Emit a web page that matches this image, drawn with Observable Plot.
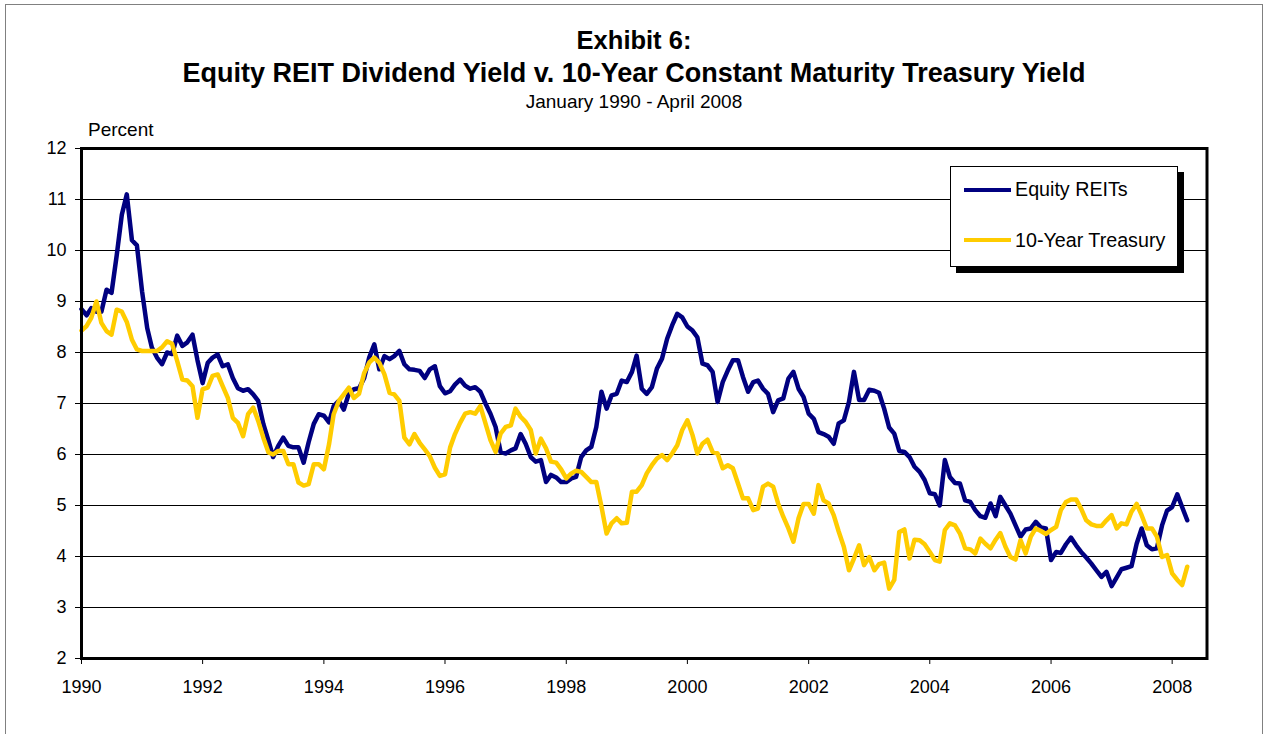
<!DOCTYPE html>
<html><head><meta charset="utf-8">
<script src="https://cdn.jsdelivr.net/npm/d3@7"></script>
<script src="https://cdn.jsdelivr.net/npm/@observablehq/plot@0.6"></script>
<style>
body{margin:0;background:#fff;font-family:"Liberation Sans",Arial,sans-serif;color:#000;}
#wrap{position:relative;width:1268px;height:734px;overflow:hidden;background:#fff;}
#border{position:absolute;left:5px;top:4px;width:1258px;height:800px;border:1px solid #808080;box-sizing:border-box;}
.t{position:absolute;left:0;width:1268px;text-align:center;white-space:nowrap;line-height:1;}
#t1{top:28px;font-size:25.5px;font-weight:bold;}
#t2{top:60px;font-size:27px;font-weight:bold;}
#t3{top:92px;font-size:19px;}
#ylab{position:absolute;left:88px;top:120px;font-size:19px;line-height:1;}
#chart{position:absolute;left:0;top:120px;}
#legend{position:absolute;left:950px;top:166px;width:228px;height:101px;border:1px solid #000;box-sizing:border-box;background:#fff;box-shadow:6px 6px 0 #000;}
#legend .sw{position:absolute;left:13px;width:47px;height:4px;}
#legend .lt{position:absolute;left:64px;font-size:19.7px;line-height:1;white-space:nowrap;}
</style></head><body>
<div id="wrap">
  <div id="border"></div>
  <div class="t" id="t1">Exhibit 6:</div>
  <div class="t" id="t2">Equity REIT Dividend Yield v. 10-Year Constant Maturity Treasury Yield</div>
  <div class="t" id="t3">January 1990 - April 2008</div>
  <div id="chart"></div>
  <div id="ylab">Percent</div>
  <div id="legend"></div>
</div>
<script>
// Monthly values, January 1990 – April 2008
const reits = [
8.85,8.73,8.87,8.8,8.8,9.23,9.17,9.9,10.7,11.1,
10.2,10.1,9.2,8.48,8.1,7.9,7.77,8.0,7.97,8.33,
8.13,8.2,8.35,7.85,7.4,7.8,7.9,7.96,7.73,7.77,
7.5,7.3,7.25,7.28,7.18,7.05,6.6,6.27,5.95,6.17,
6.33,6.17,6.14,6.14,5.84,6.24,6.6,6.79,6.76,6.63,
6.95,7.05,6.88,7.2,7.28,7.3,7.5,7.9,8.16,7.67,
7.93,7.87,7.93,8.03,7.77,7.67,7.66,7.64,7.5,7.67,
7.73,7.34,7.2,7.24,7.37,7.47,7.35,7.29,7.32,7.23,
7.0,6.8,6.54,6.05,6.02,6.08,6.12,6.4,6.21,5.95,
5.86,5.89,5.46,5.6,5.55,5.46,5.46,5.53,5.56,5.95,
6.08,6.15,6.54,7.23,6.9,7.16,7.19,7.45,7.42,7.62,
7.94,7.29,7.19,7.32,7.68,7.88,8.27,8.53,8.76,8.69,
8.51,8.43,8.3,7.78,7.75,7.62,7.03,7.42,7.65,7.85,
7.85,7.52,7.23,7.42,7.45,7.29,7.19,6.83,7.06,7.1,
7.49,7.62,7.29,7.13,6.8,6.7,6.44,6.4,6.35,6.21,
6.61,6.67,7.03,7.62,7.07,7.07,7.27,7.25,7.21,6.9,
6.53,6.41,6.07,6.05,5.95,5.76,5.66,5.5,5.24,5.22,
5.0,5.89,5.56,5.44,5.43,5.1,5.07,4.91,4.79,4.76,
5.04,4.79,5.17,5.0,4.84,4.61,4.39,4.53,4.55,4.68,
4.57,4.55,3.93,4.09,4.07,4.24,4.37,4.22,4.09,3.98,
3.86,3.73,3.6,3.7,3.42,3.59,3.75,3.78,3.81,4.25,
4.55,4.22,4.14,4.16,4.61,4.9,4.97,5.22,4.97,4.71
];
const treasury = [
8.43,8.52,8.68,9.0,8.58,8.42,8.35,8.84,8.8,8.6,
8.25,8.06,8.03,8.03,8.03,8.03,8.1,8.22,8.17,7.83,
7.47,7.45,7.34,6.72,7.28,7.31,7.54,7.57,7.34,7.11,
6.72,6.62,6.36,6.79,6.92,6.66,6.33,6.04,6.0,6.07,
6.07,5.81,5.81,5.45,5.39,5.42,5.81,5.81,5.71,6.2,
6.79,7.05,7.18,7.31,7.11,7.19,7.6,7.8,7.9,7.8,
7.57,7.21,7.18,7.05,6.33,6.2,6.4,6.23,6.1,5.97,
5.74,5.58,5.61,6.14,6.4,6.62,6.8,6.83,6.8,6.95,
6.61,6.28,6.05,6.41,6.54,6.57,6.9,6.74,6.64,6.48,
6.02,6.31,6.12,5.86,5.84,5.71,5.53,5.63,5.68,5.66,
5.56,5.46,5.46,4.98,4.45,4.65,4.75,4.65,4.66,5.27,
5.27,5.4,5.63,5.79,5.92,5.99,5.89,6.02,6.18,6.48,
6.67,6.38,6.02,6.21,6.29,6.05,6.02,5.73,5.79,5.73,
5.43,5.14,5.14,4.91,4.94,5.37,5.43,5.37,5.04,4.78,
4.55,4.29,4.75,5.03,5.03,4.84,5.4,5.1,5.04,4.81,
4.49,4.19,3.73,3.96,4.22,3.83,3.99,3.73,3.85,3.88,
3.37,3.54,4.48,4.53,3.96,4.33,4.32,4.24,4.09,3.93,
3.9,4.52,4.65,4.61,4.45,4.16,4.14,4.06,4.35,4.25,
4.16,4.33,4.46,4.19,3.99,3.94,4.32,4.06,4.39,4.55,
4.5,4.44,4.52,4.58,4.91,5.07,5.12,5.12,4.94,4.71,
4.63,4.6,4.6,4.71,4.81,4.55,4.65,4.63,4.88,5.03,
4.81,4.55,4.55,4.39,3.99,4.03,3.67,3.54,3.44,3.8
];
const seriesNames = ["Equity REITs", "10-Year Treasury"];
const seriesColors = ["#000080", "#FFCC00"];
const yTicks = [2,3,4,5,6,7,8,9,10,11,12];
const xTickYears = [1990,1992,1994,1996,1998,2000,2002,2004,2006,2008];

const months = d3.utcMonth.range(new Date(Date.UTC(1990,0,1)), new Date(Date.UTC(2008,4,1)));
const rows = months.map((d,i)=>({date:d, reits:reits[i], tsy:treasury[i]}));

const chart = Plot.plot({
  width:1268, height:600,
  marginTop:28, marginBottom:62, marginLeft:81, marginRight:61.5,
  style:{fontFamily:"'Liberation Sans', Arial, sans-serif", fontSize:"18px", color:"#000", background:"transparent", overflow:"visible"},
  x:{type:"utc", domain:[new Date(Date.UTC(1990,0,1)), new Date(Date.UTC(2008,6,29))],
     ticks: xTickYears.map(y=>new Date(Date.UTC(y,0,1))), tickFormat:d3.utcFormat("%Y"),
     tickSize:6, tickPadding:16, label:null},
  y:{domain:[2,12], ticks:yTicks, tickSize:6, tickPadding:9, label:null},
  marks:[
    Plot.ruleY(yTicks.filter(v=>v>2 && v<12), {stroke:"#000", strokeWidth:1}),
    Plot.lineY(rows, {x:"date", y:"reits", stroke:seriesColors[0], strokeWidth:4.5, strokeLinejoin:"round"}),
    Plot.lineY(rows, {x:"date", y:"tsy", stroke:seriesColors[1], strokeWidth:4.5, strokeLinejoin:"round"}),
    Plot.frame({stroke:"#000", strokeWidth:3})
  ]
});
document.getElementById("chart").appendChild(chart);

const lg = document.getElementById("legend");
const swTops = [21, 71];
const txTops = [13, 64];
seriesNames.forEach((n,i)=>{
  const sw = document.createElement("div");
  sw.className = "sw"; sw.style.top = swTops[i]+"px"; sw.style.background = seriesColors[i];
  lg.appendChild(sw);
  const tx = document.createElement("div");
  tx.className = "lt"; tx.style.top = txTops[i]+"px"; tx.textContent = n;
  lg.appendChild(tx);
});
</script>
</body></html>
